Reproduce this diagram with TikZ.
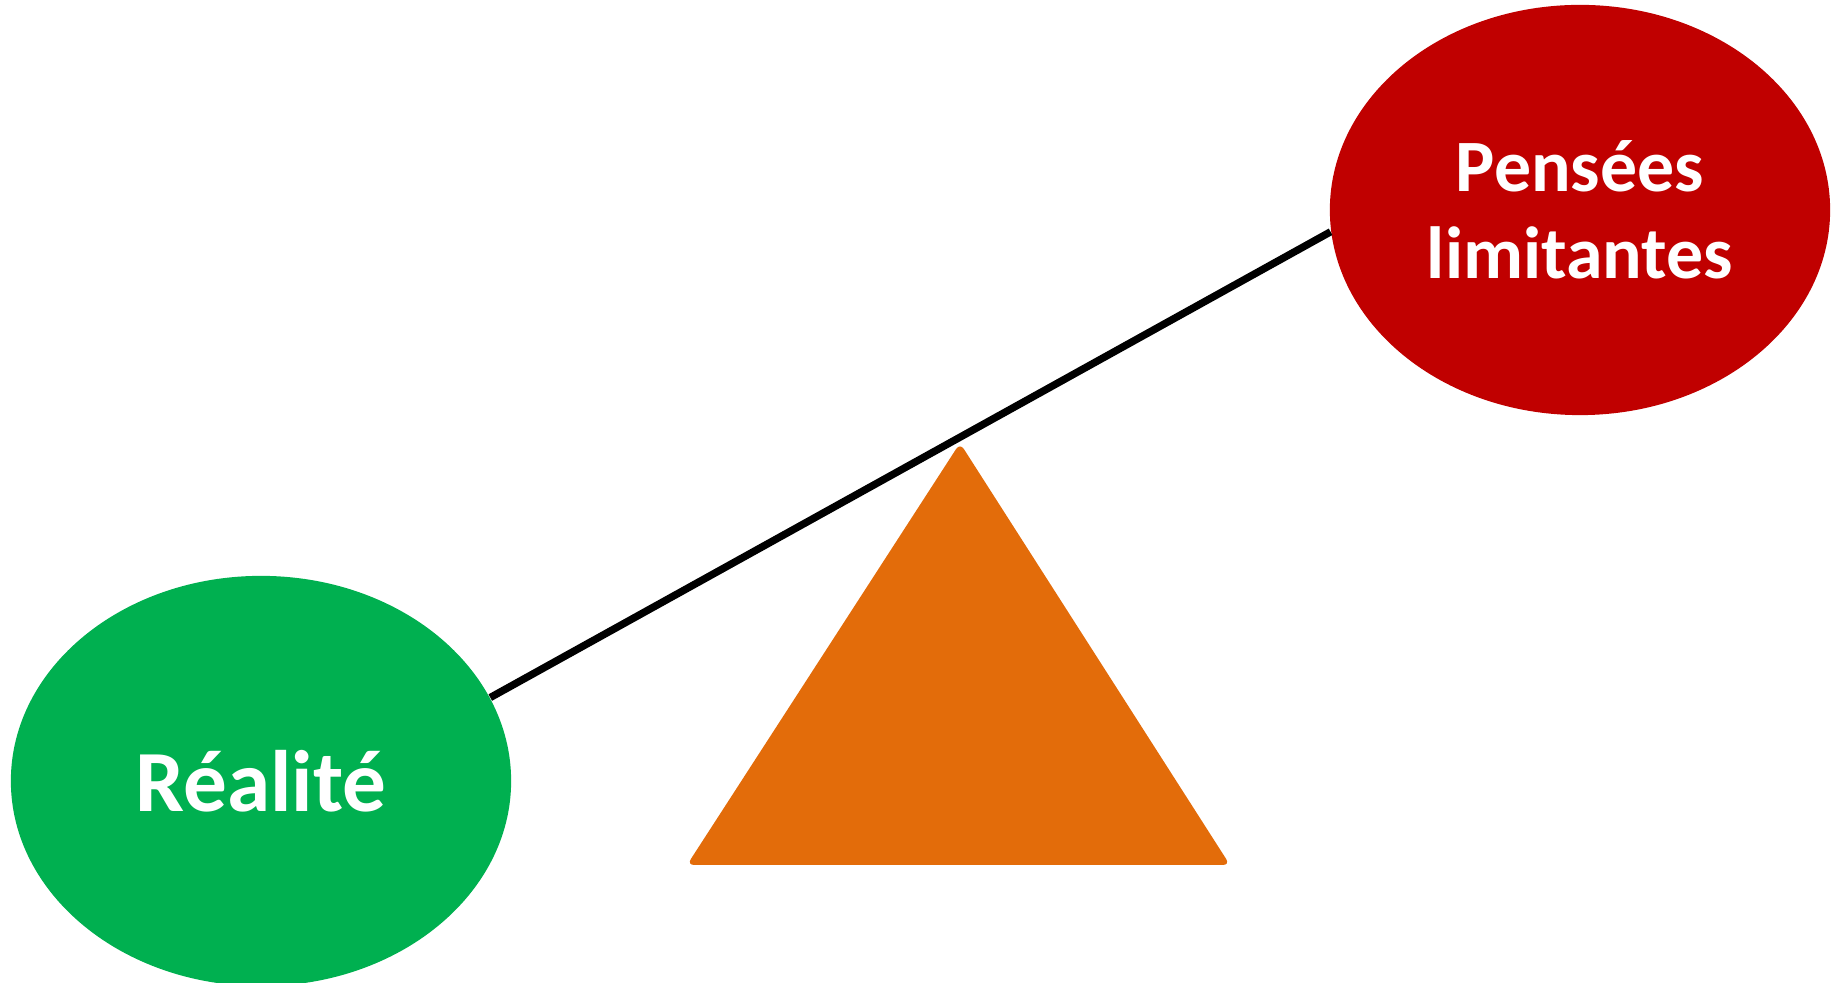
\documentclass[tikz,border=0pt]{standalone}
\usepackage{fontspec}
\setmainfont{Carlito}
\usetikzlibrary{shapes.geometric}
\definecolor{realgreen}{HTML}{00B050}
\definecolor{penred}{HTML}{C00000}
\definecolor{pivot}{HTML}{E36C0A}
\begin{document}
\begin{tikzpicture}[x=0.01cm,y=-0.01cm,
  blob/.style={ellipse, inner sep=0pt, minimum width=5cm, minimum height=4.1cm,
    text=white, align=center},
  beam/.style={line width=2.1pt, black}]
\useasboundingbox (0,0) rectangle (1841,983);
\node[blob, fill=realgreen, font=\fontsize{24.8}{28}\selectfont\bfseries] (real) at (261,781) {Réalité};
\node[blob, fill=penred, font=\fontsize{21}{24.7}\selectfont\bfseries] (pens) at (1580,210) {Pensées\\limitantes};
\coordinate (apex) at (960,443);
\coordinate (bl) at (687,865);
\coordinate (br) at (1230,865);
\fill[pivot, rounded corners=2pt] (apex) -- (br) -- (bl) -- cycle;
\draw[beam] (real.20.8) -- (pens.185.8);
\end{tikzpicture}
\end{document}
